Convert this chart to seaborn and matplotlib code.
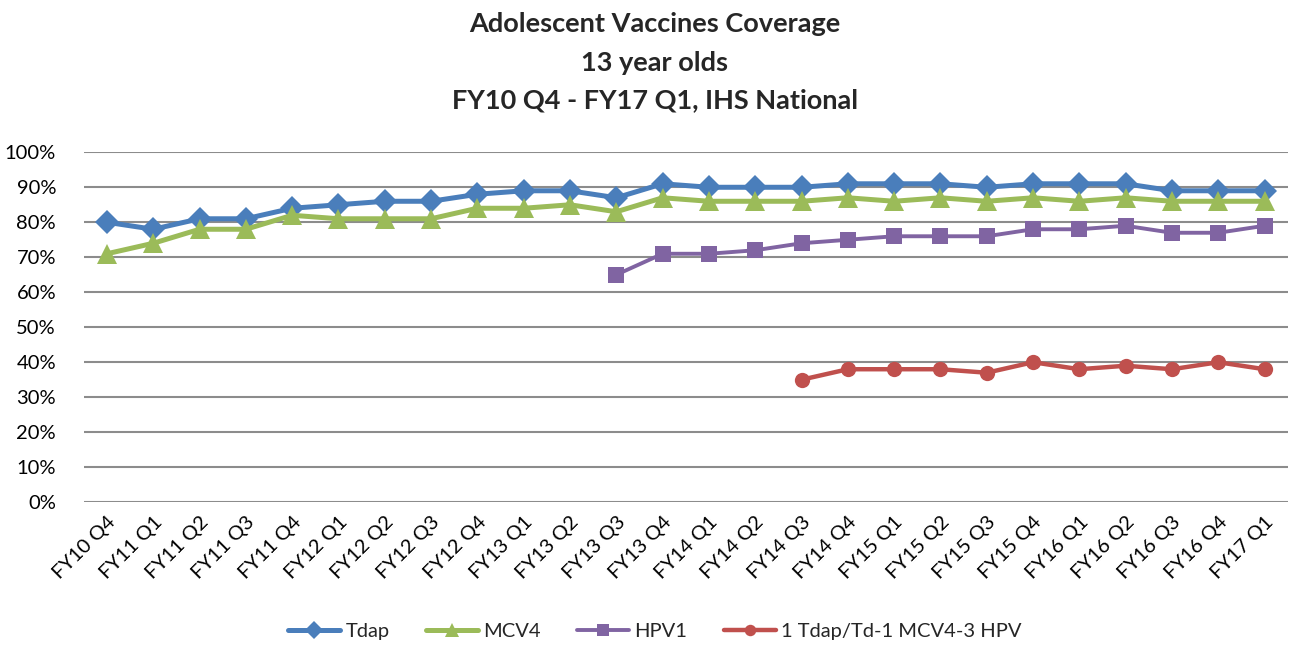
import matplotlib.pyplot as plt
import matplotlib.ticker as mticker
import numpy as np
import pandas as pd
import seaborn as sns

# Quarters on the x axis
quarters = ['FY10 Q4',
            'FY11 Q1', 'FY11 Q2', 'FY11 Q3', 'FY11 Q4',
            'FY12 Q1', 'FY12 Q2', 'FY12 Q3', 'FY12 Q4',
            'FY13 Q1', 'FY13 Q2', 'FY13 Q3', 'FY13 Q4',
            'FY14 Q1', 'FY14 Q2', 'FY14 Q3', 'FY14 Q4',
            'FY15 Q1', 'FY15 Q2', 'FY15 Q3', 'FY15 Q4',
            'FY16 Q1', 'FY16 Q2', 'FY16 Q3', 'FY16 Q4',
            'FY17 Q1']

# Coverage values (%)
tdap = [80, 78, 81, 81, 84, 85, 86, 86, 88, 89, 89, 87, 91,
        90, 90, 90, 91, 91, 91, 90, 91, 91, 91, 89, 89, 89]
mcv4 = [71, 74, 78, 78, 82, 81, 81, 81, 84, 84, 85, 83, 87,
        86, 86, 86, 87, 86, 87, 86, 87, 86, 87, 86, 86, 86]
# HPV1 starts at FY13 Q3, the combined series at FY14 Q3
hpv1 = [65, 71, 71, 72, 74, 75, 76, 76, 76, 78, 78, 79, 77, 77, 79]
combo = [35, 38, 38, 38, 37, 40, 38, 39, 38, 40, 38]

n = len(quarters)


def pad(values):
    return [np.nan] * (n - len(values)) + list(values)


df = pd.DataFrame({
    'pos': range(n),
    'quarter': quarters,
    'Tdap': tdap,
    'MCV4': mcv4,
    'HPV1': pad(hpv1),
    '1 Tdap/Td-1 MCV4-3 HPV': pad(combo),
})
long_df = df.melt(id_vars=['pos', 'quarter'], var_name='series', value_name='coverage').dropna()

sns.set_style('white')
plt.rcParams['font.family'] = ['Lato', 'DejaVu Sans']

styles = {
    'Tdap': dict(color='#4A7EBB', marker='D', lw=3.6, ms=12),
    'MCV4': dict(color='#9BBB59', marker='^', lw=3.6, ms=14),
    'HPV1': dict(color='#8064A2', marker='s', lw=2.8, ms=12),
    '1 Tdap/Td-1 MCV4-3 HPV': dict(color='#C0504D', marker='o', lw=3.2, ms=11),
}

fig = plt.figure(figsize=(12.89, 6.48), dpi=100)
ax = fig.add_axes([0.065, 0.225, 0.934, 0.54])

for name, st in styles.items():
    sub = long_df[long_df['series'] == name]
    sns.lineplot(data=sub, x='pos', y='coverage', ax=ax, sort=False,
                 color=st['color'], marker=st['marker'], linewidth=st['lw'],
                 markersize=st['ms'], markeredgewidth=0, label=name,
                 clip_on=False, zorder=3)

ax.set_xlim(-0.5, n - 0.5)
ax.set_ylim(0, 100)
ax.set_yticks(range(0, 101, 10))
ax.yaxis.set_major_formatter(mticker.FuncFormatter(lambda v, p: f'{int(v)}%'))
ax.set_xticks(range(n))
ax.set_xticklabels(quarters, rotation=45, ha='right', rotation_mode='anchor')
ax.tick_params(axis='both', length=0, labelsize=14.5, colors='black')
ax.tick_params(axis='x', pad=8)
ax.tick_params(axis='y', pad=20)
ax.set_xlabel('')
ax.set_ylabel('')
ax.grid(axis='y', color='#8C8C8C', linewidth=1.5)
ax.grid(axis='x', visible=False)
for s in ax.spines.values():
    s.set_visible(False)

handles, labels = ax.get_legend_handles_labels()
ax.legend().remove()
fig.legend(handles, labels, loc='center', bbox_to_anchor=(0.508, 0.025), ncol=4,
           frameon=False, fontsize=14.5, handlelength=2.6, columnspacing=1.8,
           handletextpad=0.25, markerscale=0.75)

title_lines = ['Adolescent Vaccines Coverage', '13 year olds',
               'FY10 Q4 - FY17 Q1, IHS National']
for line, y in zip(title_lines, [0.963, 0.903, 0.845]):
    fig.text(0.508, y, line, ha='center', va='center', fontsize=19.5, fontweight='bold')

fig.savefig('out.png', dpi=100)
